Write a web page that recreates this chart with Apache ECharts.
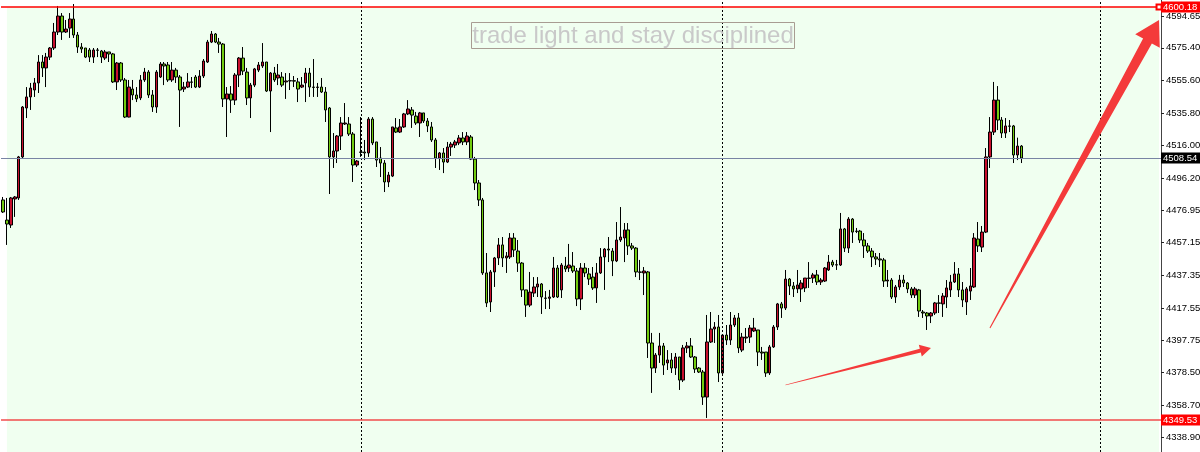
<!DOCTYPE html>
<html>
<head>
<meta charset="utf-8">
<style>
  html, body { margin: 0; padding: 0; background: #fff; }
  #chart { width: 1200px; height: 452px; }
</style>
<script src="https://cdn.jsdelivr.net/npm/echarts@6.0.0/dist/echarts.min.js"></script>
</head>
<body>
<div id="chart"></div>
<script>
// 每根K线: [open, close, low, high]
const candles = [
  [4483.1,4475.8,4475.2,4484.9],[4470.9,4468.5,4455.8,4484.3],[4467.9,4484.3,4466.1,4484.9],[4483.7,4484.9,4472.8,4485.5],
  [4484.3,4509.2,4483.1,4509.8],[4509.2,4539.5,4508.5,4540.1],[4538.9,4545.6,4532.8,4551.6],[4545.6,4551.0,4537.7,4554.1],
  [4549.8,4554.1,4545.6,4557.1],[4554.1,4566.8,4548.0,4571.0],[4566.8,4563.2,4557.7,4571.0],[4563.2,4569.8,4551.6,4572.3],
  [4569.8,4575.3,4568.0,4575.9],[4575.3,4585.0,4574.1,4590.5],[4585.0,4594.7,4583.2,4600.8],[4594.7,4585.0,4580.2,4596.5],
  [4585.0,4586.8,4584.4,4592.3],[4587.4,4592.9,4581.4,4596.5],[4592.9,4583.2,4581.4,4602.0],[4583.2,4575.9,4572.3,4585.0],
  [4575.9,4574.7,4572.3,4578.3],[4575.3,4569.8,4569.2,4575.3],[4574.1,4569.8,4566.8,4575.3],[4569.8,4574.1,4566.2,4575.3],
  [4574.1,4573.9,4569.8,4575.3],[4573.5,4569.8,4566.2,4574.1],[4569.2,4572.9,4568.0,4574.1],[4572.9,4571.7,4566.8,4572.9],
  [4571.7,4554.7,4554.1,4572.3],[4554.7,4566.2,4549.8,4566.8],[4566.2,4555.9,4554.7,4566.8],[4555.9,4533.4,4532.8,4557.1],
  [4533.4,4551.6,4533.2,4555.9],[4550.4,4546.8,4543.7,4555.9],[4546.8,4544.4,4542.5,4551.6],[4545.0,4555.9,4543.7,4558.9],
  [4555.9,4560.7,4554.7,4563.2],[4560.7,4546.8,4545.0,4561.9],[4546.8,4539.5,4536.5,4549.8],[4539.5,4560.7,4535.9,4561.9],
  [4557.7,4565.6,4557.1,4566.8],[4565.6,4564.4,4552.8,4566.8],[4565.0,4555.9,4554.7,4566.8],[4555.9,4561.9,4554.7,4566.8],
  [4561.9,4557.7,4554.1,4563.2],[4557.7,4549.8,4527.4,4558.9],[4550.4,4551.6,4548.6,4554.7],[4551.6,4554.7,4551.0,4560.1],
  [4554.7,4554.5,4551.0,4557.7],[4557.7,4551.6,4551.0,4558.9],[4551.6,4558.3,4551.0,4561.9],[4558.3,4567.4,4557.1,4568.6],
  [4566.8,4578.9,4566.2,4580.2],[4578.9,4583.8,4578.3,4585.6],[4583.8,4578.9,4578.3,4584.4],[4578.9,4577.7,4572.3,4581.4],
  [4577.7,4544.4,4539.5,4578.3],[4544.4,4547.4,4521.3,4551.6],[4547.4,4543.7,4535.9,4552.2],[4543.7,4558.9,4540.7,4560.1],
  [4558.9,4569.2,4551.6,4569.8],[4569.2,4561.3,4558.9,4575.9],[4560.7,4545.0,4540.7,4563.2],[4545.0,4552.8,4532.8,4554.1],
  [4552.8,4562.6,4551.6,4563.2],[4561.9,4565.0,4560.7,4566.8],[4564.4,4566.8,4563.2,4578.3],[4566.8,4549.2,4548.6,4566.8],
  [4549.2,4560.1,4524.3,4560.7],[4560.1,4555.9,4554.7,4563.8],[4557.1,4558.9,4552.8,4565.6],[4557.7,4552.8,4551.6,4560.7],
  [4554.7,4555.3,4544.4,4560.1],[4555.3,4555.5,4549.8,4560.1],[4555.5,4555.2,4551.6,4558.3],[4554.7,4550.4,4542.5,4557.1],
  [4551.6,4552.8,4551.0,4557.7],[4554.1,4560.1,4542.5,4563.2],[4560.1,4551.6,4545.6,4563.2],[4551.6,4551.4,4545.6,4568.6],
  [4551.4,4551.6,4545.6,4554.1],[4551.6,4548.6,4548.0,4557.1],[4548.6,4537.7,4530.4,4551.6],[4538.9,4509.2,4486.7,4539.5],
  [4509.2,4512.8,4502.5,4523.7],[4512.8,4521.9,4505.5,4522.5],[4521.9,4529.8,4513.4,4533.4],[4529.2,4529.8,4528.6,4541.9],
  [4529.2,4523.1,4521.9,4533.4],[4523.1,4504.3,4494.0,4524.3],[4504.3,4506.7,4503.1,4507.3],[4512.2,4512.0,4509.2,4533.4],
  [4512.2,4511.6,4507.3,4519.5],[4511.6,4532.2,4509.2,4533.4],[4532.2,4517.7,4516.4,4533.4],[4518.3,4507.3,4503.1,4518.3],
  [4508.5,4505.5,4497.0,4515.2],[4505.5,4494.0,4487.9,4507.3],[4494.0,4498.2,4490.9,4500.1],[4497.6,4527.4,4497.0,4527.4],
  [4526.8,4524.3,4523.7,4532.8],[4524.3,4527.4,4523.7,4532.2],[4527.4,4535.3,4526.8,4535.9],[4535.3,4538.3,4534.6,4543.7],
  [4537.7,4534.6,4526.8,4539.5],[4534.0,4529.8,4528.6,4536.5],[4529.8,4535.9,4521.3,4536.5],[4535.9,4531.0,4529.8,4535.9],
  [4531.0,4528.0,4524.3,4532.8],[4527.4,4519.5,4518.3,4530.4],[4519.5,4508.5,4502.5,4520.7],[4508.5,4511.6,4501.3,4512.2],
  [4511.6,4506.1,4499.4,4514.6],[4506.1,4515.2,4505.5,4518.3],[4515.2,4517.0,4509.8,4518.3],[4516.4,4518.3,4514.6,4519.5],
  [4517.7,4520.7,4516.4,4522.5],[4520.7,4518.3,4516.4,4524.3],[4518.3,4521.9,4516.4,4524.3],[4521.3,4507.9,4507.3,4522.5],
  [4507.9,4493.4,4489.1,4509.2],[4493.4,4483.1,4479.4,4495.2],[4483.1,4438.8,4437.6,4484.3],[4438.8,4420.6,4418.1,4450.9],
  [4421.2,4439.4,4415.1,4440.6],[4439.4,4447.9,4430.3,4448.5],[4447.9,4455.8,4443.6,4460.0],[4455.8,4447.9,4442.4,4460.6],
  [4447.9,4449.1,4438.8,4451.5],[4448.5,4460.0,4447.3,4463.0],[4460.0,4452.7,4448.5,4463.0],[4452.1,4444.8,4439.4,4458.8],
  [4444.8,4428.5,4424.2,4445.4],[4428.5,4419.3,4412.1,4428.5],[4419.3,4427.2,4418.1,4439.4],[4426.6,4430.3,4424.2,4436.3],
  [4430.3,4432.1,4424.2,4436.3],[4432.1,4424.2,4413.9,4432.7],[4423.6,4423.4,4416.9,4427.8],[4423.4,4424.2,4416.9,4428.5],
  [4424.2,4441.8,4423.6,4448.5],[4441.8,4424.2,4423.6,4443.6],[4428.5,4443.6,4423.6,4444.8],[4443.0,4441.2,4439.4,4448.5],
  [4441.8,4443.6,4439.4,4456.4],[4443.0,4440.0,4438.8,4451.5],[4440.0,4423.0,4418.7,4441.8],[4423.0,4441.8,4416.3,4444.8],
  [4441.8,4438.8,4436.3,4444.8],[4438.2,4435.1,4431.5,4441.8],[4436.3,4429.7,4428.5,4442.4],[4429.7,4438.8,4420.6,4444.8],
  [4438.8,4448.5,4438.2,4453.9],[4448.5,4453.3,4428.5,4453.9],[4453.3,4452.7,4445.4,4460.6],[4452.1,4446.1,4436.9,4453.9],
  [4446.1,4458.8,4445.4,4469.7],[4458.8,4460.6,4457.6,4478.8],[4460.0,4464.9,4445.4,4469.1],[4464.9,4455.2,4449.7,4469.1],
  [4455.2,4453.9,4452.7,4457.0],[4453.9,4439.4,4436.3,4454.5],[4439.4,4439.2,4434.5,4446.7],[4438.8,4440.0,4425.4,4442.4],
  [4439.4,4396.3,4387.2,4440.0],[4396.3,4381.1,4366.0,4402.4],[4381.1,4389.0,4378.1,4390.2],[4389.0,4394.5,4384.2,4402.4],
  [4394.5,4382.9,4376.9,4396.3],[4384.2,4386.0,4379.9,4392.0],[4386.0,4381.1,4378.1,4390.2],[4381.1,4387.8,4376.9,4390.2],
  [4387.8,4373.8,4367.8,4387.8],[4373.8,4393.3,4372.6,4395.1],[4393.3,4394.5,4390.2,4396.9],[4394.5,4387.8,4387.2,4399.3],
  [4387.8,4380.5,4378.1,4388.4],[4381.1,4378.7,4378.1,4381.7],[4378.7,4363.5,4358.7,4379.9],[4363.5,4396.9,4350.8,4413.3],
  [4396.9,4404.8,4396.3,4415.1],[4404.8,4406.0,4396.3,4409.0],[4406.0,4378.1,4372.6,4413.3],[4378.1,4401.1,4376.9,4401.1],
  [4401.1,4398.1,4395.1,4407.2],[4398.1,4407.2,4395.1,4415.1],[4407.2,4411.5,4406.0,4413.3],[4411.5,4393.3,4390.2,4414.5],
  [4392.0,4399.9,4390.8,4402.4],[4399.3,4399.9,4396.3,4405.4],[4399.9,4405.4,4396.3,4407.2],[4403.6,4405.4,4403.0,4411.5],
  [4404.2,4390.8,4382.3,4404.2],[4390.8,4390.2,4386.0,4393.9],[4390.8,4378.1,4375.7,4390.8],[4378.1,4393.9,4376.9,4395.1],
  [4393.9,4406.0,4393.3,4407.2],[4406.0,4420.0,4404.2,4420.6],[4420.0,4417.5,4411.5,4421.2],[4417.5,4435.1,4416.3,4440.6],
  [4435.1,4430.9,4425.4,4435.7],[4430.9,4429.1,4424.2,4433.3],[4429.1,4431.5,4426.6,4440.6],[4429.1,4432.7,4421.2,4434.5],
  [4429.7,4435.7,4427.2,4435.7],[4435.7,4435.5,4429.7,4445.4],[4435.7,4437.6,4432.7,4438.8],[4437.6,4433.3,4431.5,4440.6],
  [4433.3,4434.5,4431.5,4435.7],[4433.9,4441.8,4433.3,4442.4],[4440.6,4445.4,4440.0,4449.7],[4445.4,4443.6,4442.4,4446.7],
  [4443.6,4443.8,4440.6,4446.7],[4443.6,4465.5,4443.0,4475.2],[4465.5,4453.9,4451.5,4466.1],[4453.9,4471.5,4450.9,4472.7],
  [4471.5,4463.6,4457.0,4472.1],[4464.2,4464.0,4463.0,4466.1],[4464.2,4458.8,4457.0,4464.9],[4458.8,4455.2,4447.9,4463.0],
  [4455.2,4452.1,4450.9,4457.0],[4452.1,4448.5,4442.4,4453.9],[4448.5,4447.3,4443.6,4450.9],[4447.3,4446.7,4442.4,4450.9],
  [4446.7,4433.9,4430.3,4447.9],[4433.9,4434.5,4430.3,4440.6],[4434.5,4424.2,4423.0,4435.7],[4424.2,4430.3,4420.6,4431.5],
  [4430.3,4434.5,4428.5,4437.6],[4434.5,4432.7,4430.3,4437.6],[4432.7,4429.1,4426.6,4433.3],[4429.1,4425.4,4423.6,4430.3],
  [4425.4,4429.1,4423.6,4430.3],[4428.5,4415.7,4412.1,4429.1],[4415.1,4414.5,4411.5,4416.3],[4414.5,4412.7,4404.2,4415.1],
  [4412.7,4414.5,4408.4,4415.1],[4414.5,4420.6,4413.3,4421.2],[4420.6,4420.4,4414.5,4425.4],[4420.0,4424.8,4412.1,4426.6],
  [4424.2,4429.7,4417.5,4434.5],[4428.5,4433.3,4424.2,4437.6],[4433.3,4438.2,4432.7,4445.4],[4438.2,4428.5,4424.2,4441.8],
  [4428.5,4422.4,4418.1,4433.3],[4421.2,4429.1,4413.3,4430.3],[4427.8,4430.9,4422.4,4441.8],[4430.3,4460.0,4429.7,4463.0],
  [4459.4,4455.2,4451.5,4469.7],[4454.5,4463.6,4451.5,4467.3],[4463.6,4509.2,4463.0,4514.6],[4509.2,4524.3,4502.5,4533.4],
  [4524.3,4543.7,4522.5,4554.7],[4543.7,4531.6,4525.5,4552.2],[4531.6,4523.7,4520.7,4533.4],[4523.7,4528.0,4520.7,4532.8],
  [4528.0,4527.8,4524.3,4531.6],[4528.0,4510.4,4505.5,4528.6],[4510.4,4515.8,4507.3,4520.9],[4515.8,4508.54,4505.5,4516.4]
]

// 图表总槽位（右侧留空）
const slotCount = 295
const slots = Array.from({ length: slotCount }, (_, i) => String(i))

// 右侧价格刻度
const yTicks = [4594.65, 4575.40, 4555.60, 4535.80, 4516.00, 4496.20, 4476.95, 4457.15, 4437.35, 4417.55, 4397.75, 4378.50, 4358.70, 4338.90]
const yMin = 4330.15
const yMax = 4604.43

// 水平价格线: 高点 / 当前价 / 低点
const highLine = 4600.18
const lastPrice = 4508.54
const lowLine = 4349.53

// 周期分隔线所在的K线序号
const separators = [91, 183, 279]

// 浅绿色背景矩形: 起止槽位
const zoneStart = 1
const zoneEnd = slotCount - 1

// 箭头: [起点序号, 起点价格], [终点序号, 终点价格]
const arrowAnchors = [
  [[199, 4370.8], [236, 4393.3]],
  [[251, 4405.4], [294, 4592.3]],
]

const chartDom = document.getElementById('chart')
const chart = echarts.init(chartDom)

function priceTag(bg) {
  return {
    show: true,
    position: 'end',
    distance: 0,
    formatter: p => Number(p.value).toFixed(2),
    color: '#fff',
    backgroundColor: bg,
    padding: [1, 3, 0, 2],
    fontSize: 9.5,
    fontFamily: 'Liberation Sans',
  }
}

// 单条水平价格线（各自一个空系列）
function priceLineSeries(value, color, width, tagBg, withHandle) {
  const s = {
    type: 'line',
    data: [],
    silent: true,
    markLine: {
      silent: true,
      animation: false,
      symbol: 'none',
      lineStyle: { color, width, type: 'solid', opacity: 1 },
      label: priceTag(tagBg),
      data: [{ yAxis: value }],
    },
  }
  if (withHandle) {
    // 右端的小方块句柄
    s.markPoint = {
      silent: true,
      animation: false,
      symbol: 'emptyRect',
      symbolSize: 5,
      itemStyle: { color, borderColor: color, borderWidth: 1 },
      label: { show: false },
      data: [{ coord: [slots[slotCount - 1], value] }],
    }
  }
  return s
}

const option = {
  animation: false,
  grid: {
    left: 1,
    right: 39,
    top: 0,
    bottom: 0,
    show: false,
    containLabel: false,
    outerBoundsMode: 'none',
  },
  xAxis: {
    type: 'category',
    data: slots,
    show: false,
    boundaryGap: true,
  },
  yAxis: {
    type: 'value',
    position: 'right',
    min: yMin,
    max: yMax,
    splitLine: { show: false },
    axisLine: { show: true, lineStyle: { color: '#444', width: 1 } },
    axisTick: {
      show: true,
      length: 3,
      customValues: yTicks,
      lineStyle: { color: '#222' },
    },
    axisLabel: {
      customValues: yTicks,
      formatter: v => v.toFixed(2),
      color: '#000',
      fontSize: 9.5,
      fontFamily: 'Liberation Sans',
      margin: 5,
    },
  },
  series: [
    {
      type: 'candlestick',
      data: candles,
      barWidth: 3,
      itemStyle: {
        color: '#c8102e', // 阳线
        color0: '#72cc10', // 阴线
        borderColor: '#000',
        borderColor0: '#000',
        borderWidth: 1,
      },
      markArea: {
        silent: true,
        itemStyle: { color: '#f0fff0', borderWidth: 0 },
        data: [[
          { xAxis: slots[zoneStart], yAxis: highLine },
          { xAxis: slots[zoneEnd], yAxis: yMin },
        ]],
      },
      markLine: {
        silent: true,
        symbol: 'none',
        animation: false,
        label: { show: false },
        lineStyle: { color: '#000', width: 1, type: [2, 2] },
        data: separators.map(i => ({ xAxis: slots[i] })),
      },
    },
    priceLineSeries(highLine, '#ff0000', 1.6, '#ff0000', true),
    priceLineSeries(lastPrice, '#7884a4', 1, '#000', false),
    priceLineSeries(lowLine, '#f24c4c', 1.6, '#ff0000', false),
  ],
  graphic: [
    {
      id: 'wmBox',
      type: 'rect',
      shape: { x: 471.5, y: 22.5, width: 323, height: 26 },
      style: { fill: 'none', stroke: '#a89c92', lineWidth: 1 },
      z: 10,
    },
    {
      id: 'wmText',
      type: 'text',
      x: 633,
      y: 36,
      style: {
        text: 'trade light and stay disciplined',
        font: '24px "Liberation Sans"',
        fill: '#c9c9c9',
        textAlign: 'center',
        textVerticalAlign: 'middle',
      },
      z: 10,
    },
  ],
}

chart.setOption(option)

// 生成尖细箭头多边形
function arrowShape(p0, p1, w0, w1, headLen, headHalf) {
  const dx = p1[0] - p0[0]
  const dy = p1[1] - p0[1]
  const len = Math.hypot(dx, dy)
  const ux = dx / len
  const uy = dy / len
  const nx = -uy
  const ny = ux
  const bx = p1[0] - ux * headLen
  const by = p1[1] - uy * headLen
  return [
    [p0[0] + nx * w0 / 2, p0[1] + ny * w0 / 2],
    [bx + nx * w1 / 2, by + ny * w1 / 2],
    [bx + nx * headHalf, by + ny * headHalf],
    [p1[0], p1[1]],
    [bx - nx * headHalf, by - ny * headHalf],
    [bx - nx * w1 / 2, by - ny * w1 / 2],
    [p0[0] - nx * w0 / 2, p0[1] - ny * w0 / 2],
  ]
}

const arrowSizes = [
  { w0: 0.6, w1: 4, headLen: 11, headHalf: 6 },
  { w0: 1, w1: 10, headLen: 24, headHalf: 14 },
]

const arrowGraphics = arrowAnchors.map((a, k) => {
  const p0 = chart.convertToPixel({ gridIndex: 0 }, [slots[a[0][0]], a[0][1]])
  const p1 = chart.convertToPixel({ gridIndex: 0 }, [slots[a[1][0]], a[1][1]])
  const s = arrowSizes[k]
  return {
    id: 'arrow' + k,
    type: 'polygon',
    shape: { points: arrowShape(p0, p1, s.w0, s.w1, s.headLen, s.headHalf) },
    style: { fill: '#f43a3a' },
    z: 20,
  }
})

chart.setOption({ graphic: arrowGraphics })
</script>
</body>
</html>
